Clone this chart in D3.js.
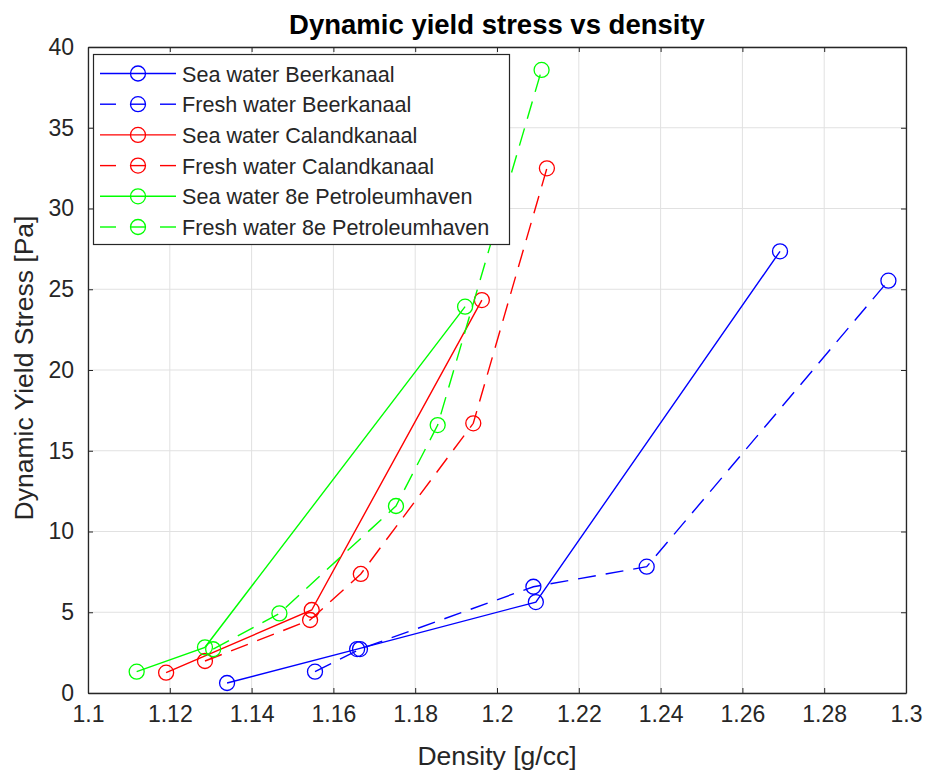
<!DOCTYPE html>
<html><head><meta charset="utf-8">
<script src="https://cdn.jsdelivr.net/npm/d3@7"></script>
<style>body{margin:0;background:#fff;} text{font-family:"Liberation Sans",Arial,sans-serif;}</style>
</head><body><svg id="c" width="926" height="777"></svg>
<script>
const xTicks = [1.1,1.12,1.14,1.16,1.18,1.2,1.22,1.24,1.26,1.28,1.3];
const yTicks = [0,5,10,15,20,25,30,35,40];
const seriesNames = ["Sea water Beerkanaal","Fresh water Beerkanaal","Sea water Calandkanaal","Fresh water Calandkanaal","Sea water 8e Petroleumhaven","Fresh water 8e Petroleumhaven"];
const seriesColors = ["#0000ff","#0000ff","#ff0000","#ff0000","#00ff00","#00ff00"];
const seriesDashed = [false,true,false,true,false,true];
const seaBeerX = [1.134,1.1658,1.2095,1.2692];
const seaBeerY = [0.62,2.72,5.63,27.35];
const freshBeerX = [1.1555,1.1665,1.2089,1.2366,1.2957];
const freshBeerY = [1.32,2.72,6.58,7.82,25.53];
const seaCalX = [1.1191,1.1547,1.1963];
const seaCalY = [1.26,5.14,24.33];
const freshCalX = [1.1286,1.1543,1.1667,1.1942,1.2122];
const freshCalY = [1.98,4.52,7.37,16.7,32.49];
const seaPetX = [1.1119,1.1286,1.1922];
const seaPetY = [1.32,2.83,23.92];
const freshPetX = [1.1306,1.1468,1.1753,1.1855,1.2109];
const freshPetY = [2.71,4.93,11.58,16.59,38.58];

const seriesX = [seaBeerX,freshBeerX,seaCalX,freshCalX,seaPetX,freshPetX];
const seriesY = [seaBeerY,freshBeerY,seaCalY,freshCalY,seaPetY,freshPetY];

const L=88,R=906,T=47,B=693;
const svg=d3.select("#c");
const x=d3.scaleLinear().domain([1.1,1.3]).range([L,R]);
const y=d3.scaleLinear().domain([0,40]).range([B,T]);
const axc="#262626";

// grid
svg.append("g").selectAll("line").data(xTicks).join("line")
 .attr("x1",d=>x(d)).attr("x2",d=>x(d)).attr("y1",T).attr("y2",B)
 .attr("stroke","#e1e1e1").attr("stroke-width",1);
svg.append("g").selectAll("line").data(yTicks).join("line")
 .attr("y1",d=>y(d)).attr("y2",d=>y(d)).attr("x1",L).attr("x2",R)
 .attr("stroke","#e1e1e1").attr("stroke-width",1);

// axes
const fmt=d=>String(d);
svg.append("g").attr("transform",`translate(0,${B})`)
 .call(d3.axisBottom(x).tickValues(xTicks).tickFormat(fmt).tickSizeInner(-5).tickSizeOuter(0).tickPadding(13));
svg.append("g").attr("transform",`translate(${L},0)`)
 .call(d3.axisLeft(y).tickValues(yTicks).tickFormat(fmt).tickSizeInner(-5).tickSizeOuter(0).tickPadding(14));
svg.append("g").attr("transform",`translate(0,${T})`)
 .call(d3.axisTop(x).tickValues(xTicks).tickFormat("").tickSizeInner(-5).tickSizeOuter(0));
svg.append("g").attr("transform",`translate(${R},0)`)
 .call(d3.axisRight(y).tickValues(yTicks).tickFormat("").tickSizeInner(-5).tickSizeOuter(0));
svg.selectAll(".domain").attr("stroke",axc).attr("stroke-width",1.3);
svg.selectAll(".tick line").attr("stroke",axc);
svg.selectAll(".tick text").attr("fill",axc).style("font-size","23px").style("font-family","'Liberation Sans',Arial,sans-serif");

// series
const line=d3.line().x(d=>x(d[0])).y(d=>y(d[1]));
seriesNames.forEach((n,i)=>{
  const pts=seriesX[i].map((v,j)=>[v,seriesY[i][j]]);
  const g=svg.append("g");
  g.append("path").attr("d",line(pts)).attr("fill","none").attr("stroke",seriesColors[i])
   .attr("stroke-width",1.4).attr("stroke-dasharray",seriesDashed[i]?"18,10":null);
  g.selectAll("circle").data(pts).join("circle").attr("cx",d=>x(d[0])).attr("cy",d=>y(d[1]))
   .attr("r",7.5).attr("fill","none").attr("stroke",seriesColors[i]).attr("stroke-width",1.3);
});

// legend
const lg=svg.append("g");
lg.append("rect").attr("x",93.5).attr("y",54.5).attr("width",416).attr("height",190)
 .attr("fill","#fff").attr("stroke",axc).attr("stroke-width",1.2);
seriesNames.forEach((n,i)=>{
  const yy=73.5+i*30.7;
  const c=seriesColors[i];
  if(seriesDashed[i]){
    [[100,116],[130,146],[160,176]].forEach(s=>lg.append("line").attr("x1",s[0]).attr("x2",s[1]).attr("y1",yy).attr("y2",yy).attr("stroke",c).attr("stroke-width",1.4));
  } else {
    lg.append("line").attr("x1",100).attr("x2",176).attr("y1",yy).attr("y2",yy).attr("stroke",c).attr("stroke-width",1.4);
  }
  lg.append("circle").attr("cx",138).attr("cy",yy).attr("r",7.5).attr("fill","none").attr("stroke",c).attr("stroke-width",1.3);
  lg.append("text").attr("x",182).attr("y",yy+8).attr("fill",axc).style("font-size","21.6px").text(n);
});

// title & labels
svg.append("text").attr("x",497).attr("y",33.5).attr("text-anchor","middle").attr("fill","#000")
 .style("font-size","27.5px").style("font-weight","bold").text("Dynamic yield stress vs density");
svg.append("text").attr("x",497).attr("y",765).attr("text-anchor","middle").attr("fill",axc)
 .style("font-size","26.5px").text("Density [g/cc]");
svg.append("text").attr("transform","translate(33,368) rotate(-90)").attr("text-anchor","middle").attr("fill",axc)
 .style("font-size","26.5px").text("Dynamic Yield Stress [Pa]");
</script></body></html>
